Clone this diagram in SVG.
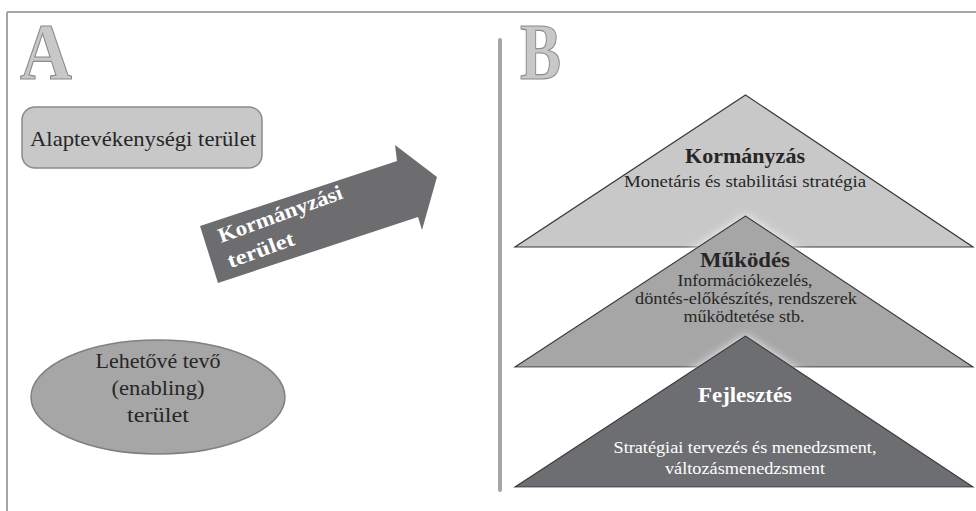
<svg xmlns="http://www.w3.org/2000/svg" width="976" height="511" viewBox="0 0 976 511">
<style>
.frame{stroke:#a6a6a6;stroke-width:2;fill:none}
.big{font-family:"Liberation Serif",serif;font-weight:bold;font-size:80px;fill:#c8c8c8;stroke:#8c8c8c;stroke-width:1.2}
.t{font-family:"Liberation Serif",serif;fill:#262626;text-anchor:middle}
.w{fill:#ffffff}
.b{font-weight:bold}
.tri{stroke:#3a3a3a;stroke-width:1.2;stroke-linejoin:miter}
</style>
<defs>
<filter id="glow" x="-10%" y="-20%" width="120%" height="140%">
<feGaussianBlur in="SourceAlpha" stdDeviation="5" result="bl"/>
<feFlood flood-color="#ffffff" flood-opacity="0.8"/>
<feComposite in2="bl" operator="in" result="g"/>
<feMerge><feMergeNode in="g"/><feMergeNode in="SourceGraphic"/></feMerge>
</filter>
</defs>
<g id="frame">
<line class="frame" x1="7" y1="12" x2="976" y2="12"/>
<line class="frame" x1="7" y1="12" x2="7" y2="511"/>
<line x1="500" y1="40" x2="500" y2="490" stroke="#a6a6a6" stroke-width="4" stroke-linecap="round"/>
</g>
<g id="labelA"><text class="big" x="20" y="79" textLength="52" lengthAdjust="spacingAndGlyphs">A</text></g>
<g id="labelB"><text class="big" x="520" y="79" textLength="41" lengthAdjust="spacingAndGlyphs">B</text></g>
<g id="alap">
<rect x="22" y="107" width="240" height="61" rx="13" fill="#c8c8c8" stroke="#8a8a8a" stroke-width="1.5"/>
<text class="t" x="143" y="146" font-size="22" textLength="226" lengthAdjust="spacingAndGlyphs">Alaptevékenységi terület</text>
</g>
<g id="enabling">
<ellipse cx="158" cy="397" rx="127" ry="57" fill="#a6a6a6" stroke="#808080" stroke-width="1.5"/>
<text class="t" x="158" y="368" font-size="22" textLength="125" lengthAdjust="spacingAndGlyphs">Lehetővé tevő</text>
<text class="t" x="158" y="395" font-size="22" textLength="93" lengthAdjust="spacingAndGlyphs">(enabling)</text>
<text class="t" x="158" y="422" font-size="22" textLength="62" lengthAdjust="spacingAndGlyphs">terület</text>
</g>
<g id="connectors">
<g id="arrow">
<polygon points="200,226 397,161 395,145 437,177 422,230 418,217 218,283" fill="#6d6d6f"/>
<g transform="translate(221,243) rotate(-20)">
<text x="0" y="0" font-family="Liberation Serif,serif" font-weight="bold" font-size="21" fill="#ffffff" textLength="131" lengthAdjust="spacingAndGlyphs">Kormányzási</text>
<text x="0" y="27" font-family="Liberation Serif,serif" font-weight="bold" font-size="21" fill="#ffffff" textLength="70" lengthAdjust="spacingAndGlyphs">terület</text>
</g>
</g>
</g>
<g id="kormanyzas">
<polygon class="tri" points="745.5,95 973,247 515,247" fill="#c8c8c8"/>
<text class="t b" x="745" y="163" font-size="22" textLength="120" lengthAdjust="spacingAndGlyphs">Kormányzás</text>
<text class="t" x="745" y="187" font-size="17.5" textLength="242" lengthAdjust="spacingAndGlyphs">Monetáris és stabilitási stratégia</text>
</g>
<g id="mukodes">
<polygon class="tri" points="745.5,216 973,367 515,367" fill="#a6a6a7" filter="url(#glow)"/>
<text class="t b" x="745" y="267" font-size="22" textLength="90" lengthAdjust="spacingAndGlyphs">Működés</text>
<text class="t" x="745" y="286" font-size="16.5" textLength="135" lengthAdjust="spacingAndGlyphs">Információkezelés,</text>
<text class="t" x="746" y="304" font-size="16.5" textLength="222" lengthAdjust="spacingAndGlyphs">döntés-előkészítés, rendszerek</text>
<text class="t" x="744" y="322" font-size="16.5" textLength="121" lengthAdjust="spacingAndGlyphs">működtetése stb.</text>
</g>
<g id="fejlesztes">
<polygon class="tri" points="745.5,336 973,487 515,487" fill="#6d6e71" filter="url(#glow)"/>
<text class="t b w" x="745" y="402" font-size="22" textLength="94" lengthAdjust="spacingAndGlyphs">Fejlesztés</text>
<text class="t w" x="745" y="453" font-size="17.5" textLength="263" lengthAdjust="spacingAndGlyphs">Stratégiai tervezés és menedzsment,</text>
<text class="t w" x="745" y="474" font-size="17.5" textLength="160" lengthAdjust="spacingAndGlyphs">változásmenedzsment</text>
</g>
</svg>
